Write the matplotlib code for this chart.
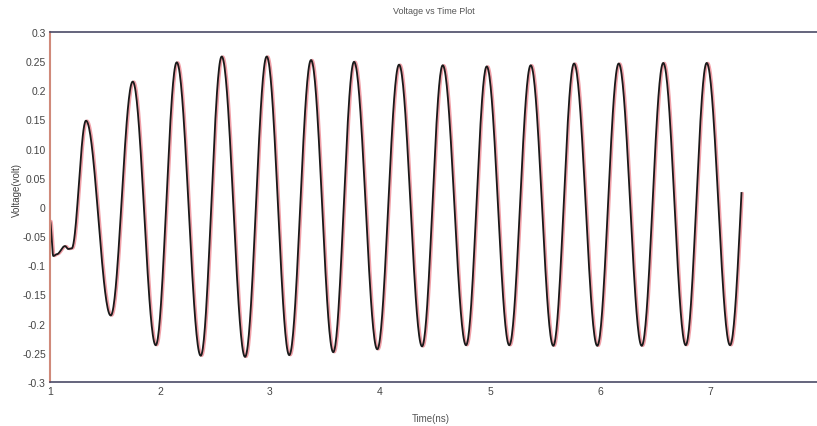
import numpy as np
import matplotlib
matplotlib.use('Agg')
import matplotlib.pyplot as plt
import matplotlib.transforms as mtransforms

# turning points of the waveform (time in ns, voltage in volt)
t_turn = [1.000, 1.030, 1.061, 1.136, 1.166, 1.197, 1.327, 1.552, 1.752, 1.961,
          2.152, 2.370, 2.561, 2.773, 2.970, 3.175, 3.373, 3.575, 3.764, 3.975,
          4.173, 4.382, 4.570, 4.782, 4.970, 5.175, 5.370, 5.575, 5.764, 5.975,
          6.170, 6.379, 6.575, 6.779, 6.970, 7.182, 7.380]
v_turn = [-0.024, -0.084, -0.081, -0.067, -0.072, -0.071, 0.148, -0.186, 0.215, -0.237,
          0.248, -0.255, 0.258, -0.257, 0.258, -0.254, 0.252, -0.249, 0.249, -0.244,
          0.244, -0.239, 0.243, -0.237, 0.241, -0.237, 0.243, -0.238, 0.246, -0.238,
          0.246, -0.238, 0.247, -0.237, 0.247, -0.237, 0.247]
t_end = 7.288  # trace stops on the last rising edge

y_ticks = [0.3, 0.25, 0.2, 0.15, 0.1, 0.05, 0, -0.05, -0.1, -0.15, -0.2, -0.25, -0.3]
y_tick_labels = ['0.3', '0.25', '0.2', '0.15', '0.10', '0.05', '0',
                 '-0.05', '-0.1', '-0.15', '-0.2', '-0.25', '-0.3']
x_ticks = [1, 2, 3, 4, 5, 6, 7]

# smooth half-cosine between consecutive turning points
t_list, v_list = [], []
for i in range(len(t_turn) - 1):
    s = np.linspace(0, 1, 40, endpoint=False)
    t_list.append(t_turn[i] + (t_turn[i + 1] - t_turn[i]) * s)
    v_list.append(v_turn[i] + (v_turn[i + 1] - v_turn[i]) * (1 - np.cos(np.pi * s)) / 2)
t = np.concatenate(t_list)
v = np.concatenate(v_list)
keep = t <= t_end
t, v = t[keep], v[keep]

plt.rcParams['font.family'] = ['Liberation Sans Narrow', 'Liberation Sans', 'DejaVu Sans']

fig = plt.figure(figsize=(8.17, 4.27), dpi=100)
ax = fig.add_axes([50 / 817, 44 / 427, 767 / 817, 350 / 427])

# scanned look: pink fringe slightly right of the black trace
shadow = mtransforms.offset_copy(ax.transData, fig=fig, x=1.2, y=0, units='dots')
ax.plot(t, v, color='#f0a0a8', lw=1.8, transform=shadow, solid_capstyle='round')
ax.plot(t, v, color='#1a1a1a', lw=1.3)

ax.set_xlim(1, 1 + 767 / 110)
ax.set_ylim(-0.3, 0.3)
ax.set_xticks(x_ticks)
ax.set_xticklabels([str(x) for x in x_ticks])
ax.set_yticks(y_ticks)
ax.set_yticklabels(y_tick_labels)
ax.tick_params(length=0, labelsize=7.5, colors='#444444', pad=3)

ax.spines['right'].set_visible(False)
ax.spines['left'].set_color('#d08a7a')
ax.spines['left'].set_linewidth(1.5)
ax.spines['top'].set_color('#4a4a66')
ax.spines['bottom'].set_color('#4a4a66')
ax.spines['top'].set_linewidth(1.2)
ax.spines['bottom'].set_linewidth(1.2)

ax.set_title('Voltage vs Time Plot', fontsize=6.5, color='#555555', pad=14)
ax.set_xlabel('Time(ns)', fontsize=7, color='#555555')
ax.xaxis.set_label_coords(0.497, -0.09)
ax.set_ylabel('Voltage(volt)', fontsize=7, color='#444444')
ax.yaxis.set_label_coords(-0.036, 0.55)

fig.savefig('out.png', dpi=100)
